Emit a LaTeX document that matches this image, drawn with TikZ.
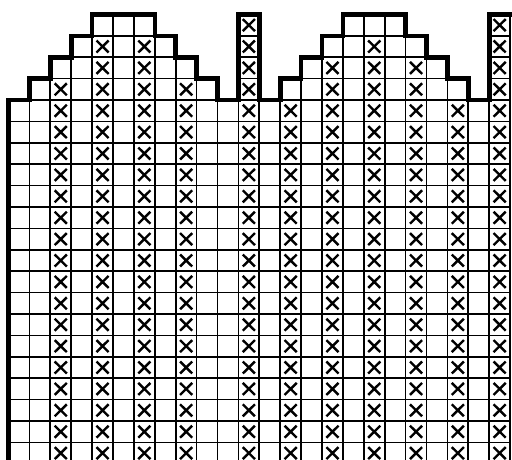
\documentclass[tikz,border=0pt]{standalone}
\begin{document}
\begin{tikzpicture}[x=1pt,y=-1pt,
  gridline/.style={line width=1.7pt},
  heavyline/.style={line width=2.4pt},
  outline/.style={line width=4.6pt, line join=miter, line cap=rect},
  xmark/.style={line width=2.4pt}]
\fill[white] (0,0) rectangle (512,459);
\useasboundingbox (0,0) rectangle (512,459);
\clip (0,0) rectangle (512,459);
\begin{scope}[shift={(8.5,14.4)}, x=20.9pt, y=-21.4pt]
  % grid cells
  \foreach \c/\t in {0/4,1/3,2/2,3/1,4/0,5/0,6/0,7/1,8/2,9/3,10/4,11/0,12/4,13/3,14/2,15/1,16/0,17/0,18/0,19/1,20/2,21/3,22/4,23/0}{
    \foreach \r in {\t,...,20}{
      \draw[gridline] (\c,\r) rectangle ++(1,1);
    }
  }
  % heavier row line
  \draw[heavyline] (0,11) -- (24,11);
  % crosses
  \foreach \c/\s in {2/3,4/1,6/1,8/3,11/0,13/4,15/2,17/1,19/2,21/4,23/0}{
    \foreach \r in {\s,...,20}{
      \draw[xmark] (\c+0.5-0.29,\r+0.5-0.28) -- (\c+0.5+0.29,\r+0.5+0.28)
                   (\c+0.5-0.29,\r+0.5+0.28) -- (\c+0.5+0.29,\r+0.5-0.28);
    }
  }
  % outline
  \draw[outline] (0,21.5) -- (0,4) -- (1,4) -- (1,3) -- (2,3) -- (2,2) -- (3,2) -- (3,1) -- (4,1) -- (4,0) -- (7,0) -- (7,1) -- (8,1) -- (8,2) -- (9,2) -- (9,3) -- (10,3) -- (10,4) -- (11,4) -- (11,0) -- (12,0) -- (12,4) -- (13,4) -- (13,3) -- (14,3) -- (14,2) -- (15,2) -- (15,1) -- (16,1) -- (16,0) -- (19,0) -- (19,1) -- (20,1) -- (20,2) -- (21,2) -- (21,3) -- (22,3) -- (22,4) -- (23,4) -- (23,0) -- (24.3,0);
\end{scope}
\end{tikzpicture}
\end{document}
